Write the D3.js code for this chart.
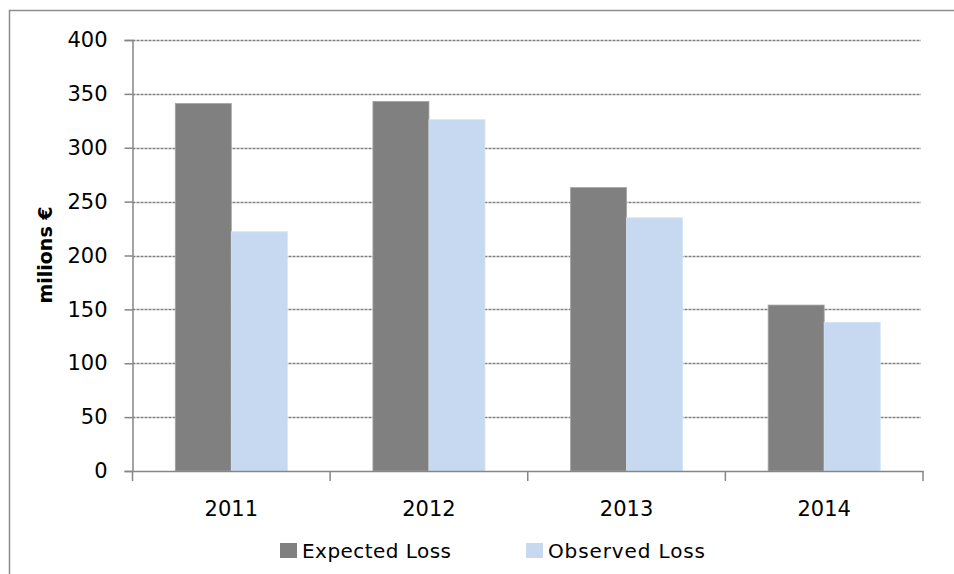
<!DOCTYPE html>
<html>
<head>
<meta charset="utf-8">
<script src="https://cdn.jsdelivr.net/npm/d3@7"></script>
<style>
  body { margin: 0; background: #fff; }
  svg { display: block; font-family: "DejaVu Sans", sans-serif; }
</style>
</head>
<body>
<svg id="chart" width="954" height="574"></svg>
<script>
let years = ["2011", "2012", "2013", "2014"];
let series = ["Expected Loss", "Observed Loss"];
let expectedLoss = [341, 343, 263, 154];
let observedLoss = [222, 326, 235, 138];
let yTicks = [0, 50, 100, 150, 200, 250, 300, 350, 400];
let colors = ["#808080", "#c6d9f1"];

let values = [expectedLoss, observedLoss];
let svg = d3.select("#chart");

let plotLeft = 132.5, plotRight = 923, plotTop = 40, plotBottom = 471;

// outer frame (runs past the right and bottom edge)
svg.append("rect")
	.attr("x", 9.5).attr("y", 10.5)
	.attr("width", 1000).attr("height", 700)
	.attr("fill", "none")
	.attr("stroke", "#8c8c8c")
	.attr("stroke-width", 1.5);

let x = d3.scaleBand().domain(years).range([plotLeft, plotRight]);
let xInner = d3.scaleBand().domain(series).range([0, x.bandwidth()]).paddingOuter(0.764);
let y = d3.scaleLinear().domain([0, 400]).range([plotBottom, plotTop]);

// gridlines
svg.append("g")
	.selectAll("line")
	.data(yTicks.filter(d => d > 0))
	.enter().append("line")
	.attr("x1", plotLeft).attr("x2", 921)
	.attr("y1", d => Math.round(y(d)) + 0.5)
	.attr("y2", d => Math.round(y(d)) + 0.5)
	.attr("stroke", "#808080")
	.attr("stroke-width", 1.5)
	.attr("stroke-dasharray", "3,1");

// bars
let groups = svg.append("g")
	.selectAll("g")
	.data(series)
	.enter().append("g");

groups.selectAll("rect")
	.data((s, si) => years.map((yr, i) => ({ year: yr, value: values[si][i], s: s, si: si })))
	.enter().append("rect")
	.attr("x", d => x(d.year) + xInner(d.s))
	.attr("width", xInner.bandwidth())
	.attr("y", d => y(d.value))
	.attr("height", d => y(0) - y(d.value))
	.attr("fill", d => colors[d.si])
	.attr("stroke", d => d.si == 0 ? "#a3a3a3" : "#d3e2f5")
	.attr("stroke-width", 0.8);

// y axis
let yAxis = svg.append("g")
	.attr("transform", "translate(" + plotLeft + ",0)")
	.call(d3.axisLeft(y).tickValues(yTicks).tickSize(8).tickPadding(17));
yAxis.select(".domain").attr("stroke", "#868686").attr("stroke-width", 1.5);
yAxis.selectAll(".tick line").attr("stroke", "#868686").attr("stroke-width", 1.5);
yAxis.selectAll(".tick text")
	.style("font-family", "DejaVu Sans")
	.style("font-size", "21px")
	.attr("fill", "#000");

// x axis
let xAxis = svg.append("g")
	.attr("transform", "translate(0," + plotBottom + ")")
	.call(d3.axisBottom(x).tickSize(0).tickPadding(30));
xAxis.select(".domain").attr("stroke", "#868686").attr("stroke-width", 1.5);
xAxis.selectAll(".tick text")
	.style("font-family", "DejaVu Sans")
	.style("font-size", "21px")
	.attr("fill", "#000");

// category separators on x axis
svg.append("g")
	.selectAll("line")
	.data(years.concat(["end"]))
	.enter().append("line")
	.attr("x1", (d, i) => i < years.length ? x(d) : plotRight)
	.attr("x2", (d, i) => i < years.length ? x(d) : plotRight)
	.attr("y1", plotBottom).attr("y2", plotBottom + 10)
	.attr("stroke", "#868686")
	.attr("stroke-width", 1.5);

// y-axis label
svg.append("text")
	.attr("transform", "translate(52,255) rotate(-90)")
	.style("text-anchor", "middle")
	.style("font-weight", "bold")
	.style("font-size", "19px")
	.text("milions €");

// legend
let legendX = [280, 526];
let legend = svg.append("g")
	.selectAll("g")
	.data(series)
	.enter().append("g")
	.attr("transform", (d, i) => "translate(" + legendX[i] + ",543)");

legend.append("rect")
	.attr("width", 17).attr("height", 15)
	.attr("fill", (d, i) => colors[i]);

legend.append("text")
	.attr("x", 22)
	.attr("y", 15)
	.style("font-size", "20px")
	.attr("textLength", (d, i) => i == 0 ? 149 : 157)
	.text(d => d);
</script>
</body>
</html>
